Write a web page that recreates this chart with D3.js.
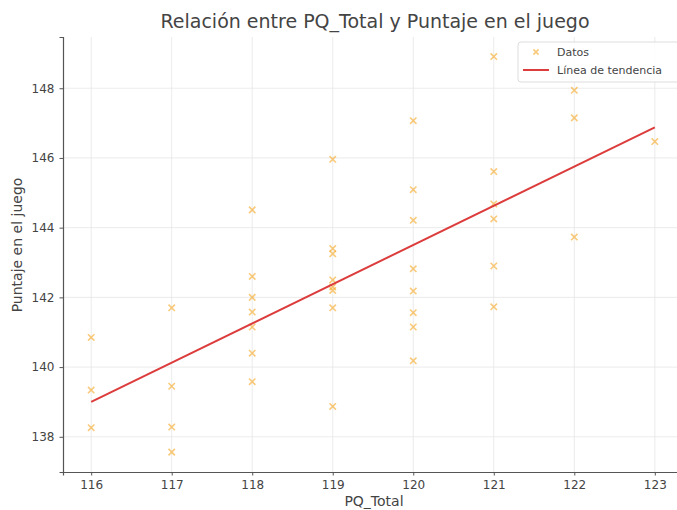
<!DOCTYPE html>
<html>
<head>
<meta charset="utf-8">
<script src="https://cdn.jsdelivr.net/npm/d3@7"></script>
<style>
  body { margin: 0; background: #fff; }
  svg { display: block; }
  text { font-family: "DejaVu Sans", sans-serif; }
</style>
</head>
<body>
<svg id="chart" width="677" height="510"></svg>
<script>
// Data
const pqTotal = [116,116,116, 117,117,117,117, 118,118,118,118,118,118,118,
  119,119,119,119,119,119,119,119, 120,120,120,120,120,120,120,120,
  121,121,121,121,121,121, 122,122,122, 123];
const puntaje = [140.85,139.34,138.26, 141.7,139.45,138.28,137.56,
  144.51,142.6,142.0,141.58,141.15,140.4,139.58,
  145.96,143.4,143.25,142.5,142.3,142.2,141.7,138.87,
  147.07,145.09,144.21,142.82,142.18,141.56,141.15,140.18,
  148.91,145.61,144.68,144.25,142.9,141.73,
  147.94,147.15,143.73, 146.47];
const trendX = [116, 123];
const trendY = [139.0, 146.88];
const xTicks = [116,117,118,119,120,121,122,123];
const yTicks = [138,140,142,144,146,148];

const svg = d3.select("#chart");
const mLeft = 63, mTop = 37, mRight = 683, mBottom = 472;

const x = d3.scaleLinear().domain([115.65, 123.35]).range([mLeft, mRight]);
const y = d3.scaleLinear().domain([136.99, 149.47]).range([mBottom, mTop]);

// Grid
const grid = svg.append("g");
grid.selectAll(".gx").data(xTicks).join("line")
  .attr("x1", d => x(d)).attr("x2", d => x(d))
  .attr("y1", mTop).attr("y2", mBottom)
  .attr("stroke", "#e6e6e6").attr("stroke-width", 0.8);
grid.selectAll(".gy").data(yTicks).join("line")
  .attr("x1", mLeft).attr("x2", mRight)
  .attr("y1", d => y(d)).attr("y2", d => y(d))
  .attr("stroke", "#e6e6e6").attr("stroke-width", 0.8);

// Axes
const xAxis = svg.append("g").attr("transform", `translate(0,${mBottom})`)
  .call(d3.axisBottom(x).tickValues(xTicks).tickSize(3.5).tickPadding(5).tickFormat(d3.format("d")));
const yAxis = svg.append("g").attr("transform", `translate(${mLeft},0)`)
  .call(d3.axisLeft(y).tickValues(yTicks).tickSize(3.5).tickPadding(5).tickFormat(d3.format("d")));
[xAxis, yAxis].forEach(a => {
  a.select(".domain").attr("stroke", "#555").attr("stroke-width", 1.2);
  a.selectAll(".tick line").attr("stroke", "#555");
  a.selectAll(".tick text").attr("fill", "#444").style("font-size", "12px")
    .style("font-family", "DejaVu Sans, sans-serif");
});

// Points (x markers)
const s = 3.2;
svg.append("g").selectAll("path").data(pqTotal.map((d, i) => [d, puntaje[i]])).join("path")
  .attr("d", d => {
    const cx = x(d[0]), cy = y(d[1]);
    return `M${cx - s},${cy - s}L${cx + s},${cy + s}M${cx - s},${cy + s}L${cx + s},${cy - s}`;
  })
  .attr("stroke", "#f5a623").attr("stroke-opacity", 0.6).attr("stroke-width", 1.6).attr("fill", "none");

// Trend line
svg.append("path")
  .datum(trendX.map((d, i) => [d, trendY[i]]))
  .attr("d", d3.line().x(d => x(d[0])).y(d => y(d[1])))
  .attr("stroke", "#dc3c3c").attr("stroke-width", 2).attr("fill", "none");

// Title and labels
svg.append("text").attr("x", 375).attr("y", 28).attr("text-anchor", "middle")
  .attr("fill", "#444").style("font-size", "19px")
  .text("Relación entre PQ_Total y Puntaje en el juego");
svg.append("text").attr("x", 374).attr("y", 506).attr("text-anchor", "middle")
  .attr("fill", "#444").style("font-size", "14px").text("PQ_Total");
svg.append("text").attr("transform", "translate(22,245) rotate(-90)").attr("text-anchor", "middle")
  .attr("fill", "#444").style("font-size", "14px").text("Puntaje en el juego");

// Legend
const lg = svg.append("g");
lg.append("rect").attr("x", 518).attr("y", 42).attr("width", 175).attr("height", 40).attr("rx", 3)
  .attr("fill", "#fff").attr("fill-opacity", 0.85).attr("stroke", "#ddd");
lg.append("path")
  .attr("d", `M${536 - 2.6},${52 - 2.6}L${536 + 2.6},${52 + 2.6}M${536 - 2.6},${52 + 2.6}L${536 + 2.6},${52 - 2.6}`)
  .attr("stroke", "#f5a623").attr("stroke-opacity", 0.6).attr("stroke-width", 1.6);
lg.append("line").attr("x1", 523).attr("x2", 549).attr("y1", 70).attr("y2", 70)
  .attr("stroke", "#dc3c3c").attr("stroke-width", 2);
lg.append("text").attr("x", 557).attr("y", 56).attr("fill", "#444").style("font-size", "11px").text("Datos");
lg.append("text").attr("x", 557).attr("y", 74).attr("fill", "#444").style("font-size", "11px").text("Línea de tendencia");
</script>
</body>
</html>
